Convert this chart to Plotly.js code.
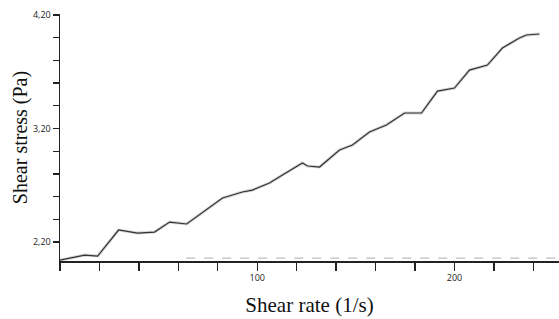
<!DOCTYPE html>
<html>
<head>
<meta charset="utf-8">
<script src="https://cdn.plot.ly/plotly-3.0.1.min.js"></script>
<style>html,body{margin:0;padding:0;background:#fff;}#chart{width:559px;height:319px;}</style>
</head>
<body>
<div id="chart"></div>
<script>
// Shear rate (1/s)
const shearRate = [0, 12.5, 19.1, 29.7, 39.3, 47.9, 55.6, 62.2, 64.2, 82.4, 92.5, 97.6, 106.2, 112.8, 122.9, 125.5, 131.6, 141.7, 148.3, 156.9, 165.5, 174.7, 183.3, 187.3, 191.4, 200.0, 207.6, 216.7, 224.3, 232.9, 236.5, 243.1];
// Shear stress (Pa)
const shearStress = [2.041, 2.085, 2.077, 2.306, 2.279, 2.288, 2.376, 2.359, 2.359, 2.588, 2.641, 2.658, 2.720, 2.790, 2.896, 2.870, 2.861, 3.011, 3.055, 3.169, 3.231, 3.337, 3.337, 3.433, 3.530, 3.557, 3.715, 3.759, 3.909, 3.997, 4.024, 4.033];
// faint baseline trace near the x axis
const baseRate = [64, 100, 140, 180, 220, 253];
const baseStress = [2.058, 2.058, 2.057, 2.058, 2.057, 2.058];

const xTickVals = [0, 20, 40, 60, 80, 100, 120, 140, 160, 180, 200, 220, 240];
const xTickText = ['', '', '', '', '', '100', '', '', '', '', '200', '', ''];
const yTickVals = [2.2, 2.4, 2.6, 2.8, 3.0, 3.2, 3.4, 3.6, 3.8, 4.0, 4.2];
const yTickText = ['2,20', '', '', '', '', '3,20', '', '', '', '', '4,20'];

const traces = [
  {x: baseRate, y: baseStress, mode: 'lines', line: {color: '#bdbdbd', width: 1.2, dash: 'dash'}, hoverinfo: 'skip', showlegend: false},
  {x: shearRate, y: shearStress, mode: 'lines', line: {color: '#d4d4d4', width: 3}, hoverinfo: 'skip', showlegend: false},
  {x: shearRate, y: shearStress, mode: 'lines', line: {color: '#333333', width: 1.2}, showlegend: false}
];

const layout = {
  width: 559, height: 319,
  margin: {l: 60, r: 0, t: 14, b: 58},
  paper_bgcolor: '#ffffff', plot_bgcolor: '#ffffff',
  showlegend: false,
  xaxis: {
    range: [0, 253], showgrid: false, zeroline: false,
    showline: true, linecolor: '#222', linewidth: 1.5,
    ticks: 'outside', ticklen: 8, tickcolor: '#222', tickwidth: 1.3,
    tickmode: 'array', tickvals: xTickVals, ticktext: xTickText,
    tickfont: {family: 'Open Sans, sans-serif', size: 9, color: '#222'},
    title: {text: 'Shear rate (1/s)', font: {family: 'Liberation Serif, Times New Roman, serif', size: 21, color: '#111'}, standoff: 14}
  },
  yaxis: {
    range: [2.033, 4.209], showgrid: false, zeroline: false,
    showline: true, linecolor: '#222', linewidth: 1.5,
    ticks: 'outside', ticklen: 6, tickcolor: '#222', tickwidth: 1.3,
    tickmode: 'array', tickvals: yTickVals, ticktext: yTickText,
    tickfont: {family: 'Open Sans, sans-serif', size: 9, color: '#222'},
    title: {text: 'Shear stress (Pa)', font: {family: 'Liberation Serif, Times New Roman, serif', size: 20, color: '#111'}, standoff: 0}
  }
};

Plotly.newPlot('chart', traces, layout, {staticPlot: true, displayModeBar: false});
</script>
</body>
</html>
